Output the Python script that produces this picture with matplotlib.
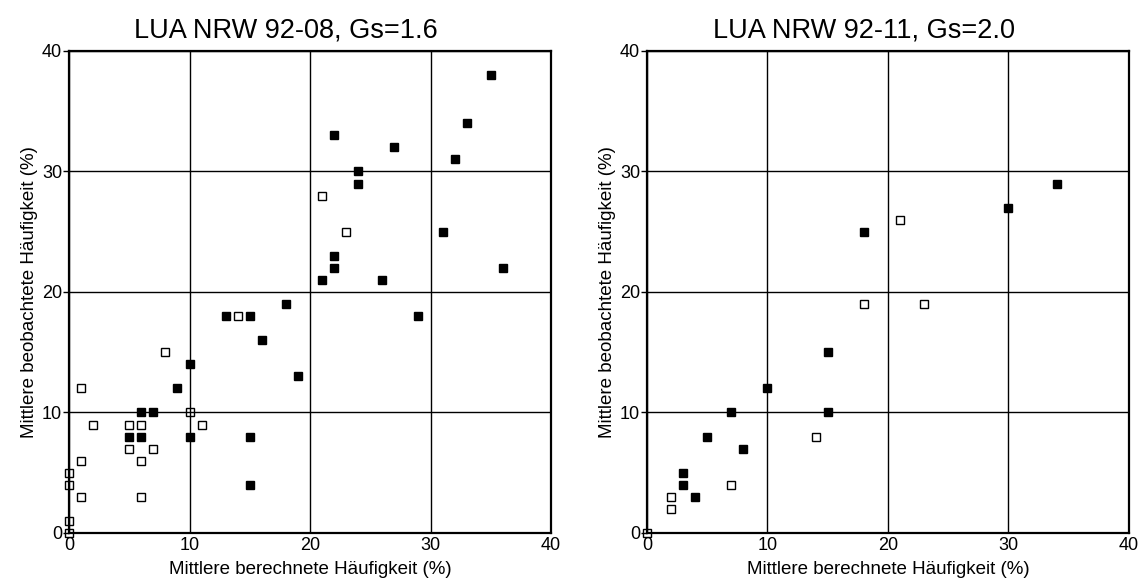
import matplotlib
matplotlib.use('Agg')
import matplotlib.pyplot as plt

plt.rcParams['font.family'] = ['Liberation Sans', 'DejaVu Sans']

# Left panel: LUA NRW 92-08
left_filled_x = [35, 33, 22, 27, 24, 32, 24, 31, 22, 22, 21, 26, 36, 29, 13, 15, 18, 16, 19, 10, 9, 6, 7, 5, 6, 10, 15, 15]
left_filled_y = [38, 34, 33, 32, 30, 31, 29, 25, 23, 22, 21, 21, 22, 18, 18, 18, 19, 16, 13, 14, 12, 10, 10, 8, 8, 8, 8, 4]
left_open_x = [21, 23, 14, 8, 1, 10, 2, 5, 6, 11, 5, 7, 1, 6, 0, 0, 1, 6, 0, 0]
left_open_y = [28, 25, 18, 15, 12, 10, 9, 9, 9, 9, 7, 7, 6, 6, 5, 4, 3, 3, 1, 0]

# Right panel: LUA NRW 92-11
right_filled_x = [34, 30, 18, 15, 10, 7, 15, 5, 8, 3, 3, 4]
right_filled_y = [29, 27, 25, 15, 12, 10, 10, 8, 7, 5, 4, 3]
right_open_x = [21, 18, 23, 14, 7, 2, 2, 0]
right_open_y = [26, 19, 19, 8, 4, 3, 2, 0]

titles = ['LUA NRW 92-08, Gs=1.6', 'LUA NRW 92-11, Gs=2.0']
ticks = [0, 10, 20, 30, 40]

fig = plt.figure(figsize=(11.39, 5.83), dpi=100)
ax1 = fig.add_axes([0.0606, 0.0858, 0.4232, 0.8268])
ax2 = fig.add_axes([0.5680, 0.0858, 0.4232, 0.8268])

panels = [
    (ax1, left_filled_x, left_filled_y, left_open_x, left_open_y),
    (ax2, right_filled_x, right_filled_y, right_open_x, right_open_y),
]

for i, (ax, fx, fy, ox, oy) in enumerate(panels):
    ax.plot(fx, fy, 's', color='black', ms=5.8, mec='black', clip_on=False, zorder=2)
    ax.plot(ox, oy, 's', mfc='white', mec='black', mew=1.0, ms=5.8, clip_on=False, zorder=2)
    ax.set_xlim(0, 40)
    ax.set_ylim(0, 40)
    ax.set_xticks(ticks)
    ax.set_yticks(ticks)
    ax.grid(True, color='black', linewidth=1.0)
    ax.set_axisbelow(False)
    for s in ax.spines.values():
        s.set_linewidth(1.6)
    ax.tick_params(axis='y', direction='out', length=4, width=1, pad=1, labelsize=13)
    ax.tick_params(axis='x', length=0, pad=3, labelsize=13)
    ax.set_title(titles[i], fontsize=19.5, pad=10, x=0.45)
    ax.set_xlabel('Mittlere berechnete Häufigkeit (%)', fontsize=13.5, labelpad=5)
    ax.set_ylabel('Mittlere beobachtete Häufigkeit (%)', fontsize=13.5, labelpad=3)

fig.savefig('out.png', dpi=100)
